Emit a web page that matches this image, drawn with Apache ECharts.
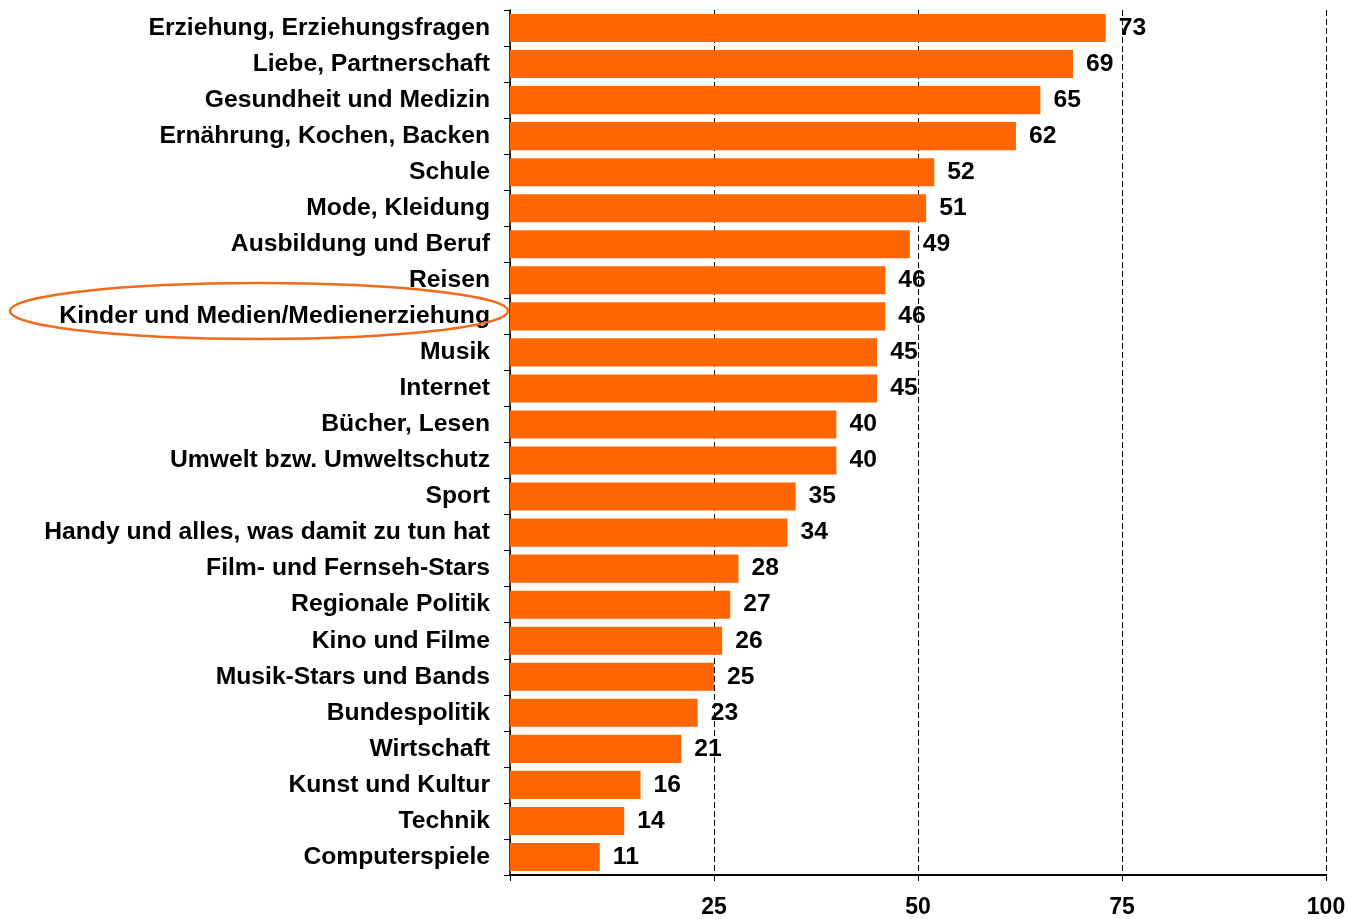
<!DOCTYPE html>
<html>
<head>
<meta charset="utf-8">
<script src="https://cdn.jsdelivr.net/npm/echarts@6/dist/echarts.min.js"></script>
<style>
  html, body { margin: 0; padding: 0; background: #fff; }
  #chart { width: 1349px; height: 919px; }
</style>
</head>
<body>
<div id="chart"></div>
<script>
const categories = [
    'Erziehung, Erziehungsfragen', 'Liebe, Partnerschaft', 'Gesundheit und Medizin',
    'Ernährung, Kochen, Backen', 'Schule', 'Mode, Kleidung', 'Ausbildung und Beruf',
    'Reisen', 'Kinder und Medien/Medienerziehung', 'Musik', 'Internet', 'Bücher, Lesen',
    'Umwelt bzw. Umweltschutz', 'Sport', 'Handy und alles, was damit zu tun hat',
    'Film- und Fernseh-Stars', 'Regionale Politik', 'Kino und Filme',
    'Musik-Stars und Bands', 'Bundespolitik', 'Wirtschaft', 'Kunst und Kultur',
    'Technik', 'Computerspiele'
];
const values = [73, 69, 65, 62, 52, 51, 49, 46, 46, 45, 45, 40, 40, 35, 34, 28, 27, 26, 25, 23, 21, 16, 14, 11];
const xTicks = [0, 25, 50, 75, 100];

const fontFamily = '"Liberation Sans", Arial, sans-serif';

const chart = echarts.init(document.getElementById('chart'));
chart.setOption({
    animation: false,
    grid: { left: 510, right: 23, top: 10, bottom: 44 },
    xAxis: {
        type: 'value',
        min: xTicks[0],
        max: xTicks[xTicks.length - 1],
        interval: 25,
        axisLine: { show: true, lineStyle: { color: '#000', width: 2 } },
        axisTick: { show: true, length: 6, lineStyle: { color: '#000' } },
        axisLabel: {
            margin: 21,
            color: '#000',
            fontFamily: fontFamily,
            fontWeight: 'bold',
            fontSize: 23,
            formatter: function (v) { return v === 0 ? '' : String(v); }
        },
        splitLine: { show: true, lineStyle: { color: '#000', type: [6, 3], width: 1 } }
    },
    yAxis: {
        type: 'category',
        inverse: true,
        data: categories,
        axisLine: { show: true, lineStyle: { color: '#000', width: 1.5 } },
        axisTick: { show: true, length: 6, lineStyle: { color: '#000' } },
        axisLabel: {
            margin: 20,
            color: '#000',
            fontFamily: fontFamily,
            fontWeight: 'bold',
            fontSize: 24.7,
            padding: [7, 0, 0, 0]
        },
        splitLine: { show: false }
    },
    series: [{
        type: 'bar',
        data: values,
        barCategoryGap: '22%',
        itemStyle: { color: '#FF6600' },
        label: {
            show: true,
            position: 'right',
            distance: 13,
            color: '#000',
            fontFamily: fontFamily,
            fontWeight: 'bold',
            fontSize: 24.7,
            padding: [7, 0, 0, 0]
        }
    }],
    graphic: [{
        type: 'ellipse',
        shape: { cx: 259, cy: 311, rx: 249, ry: 28 },
        style: { fill: 'none', stroke: '#F26A1B', lineWidth: 2.5 },
        z: 100
    }]
});

window.addEventListener('resize', function () {
    chart.resize();
});
</script>
</body>
</html>
